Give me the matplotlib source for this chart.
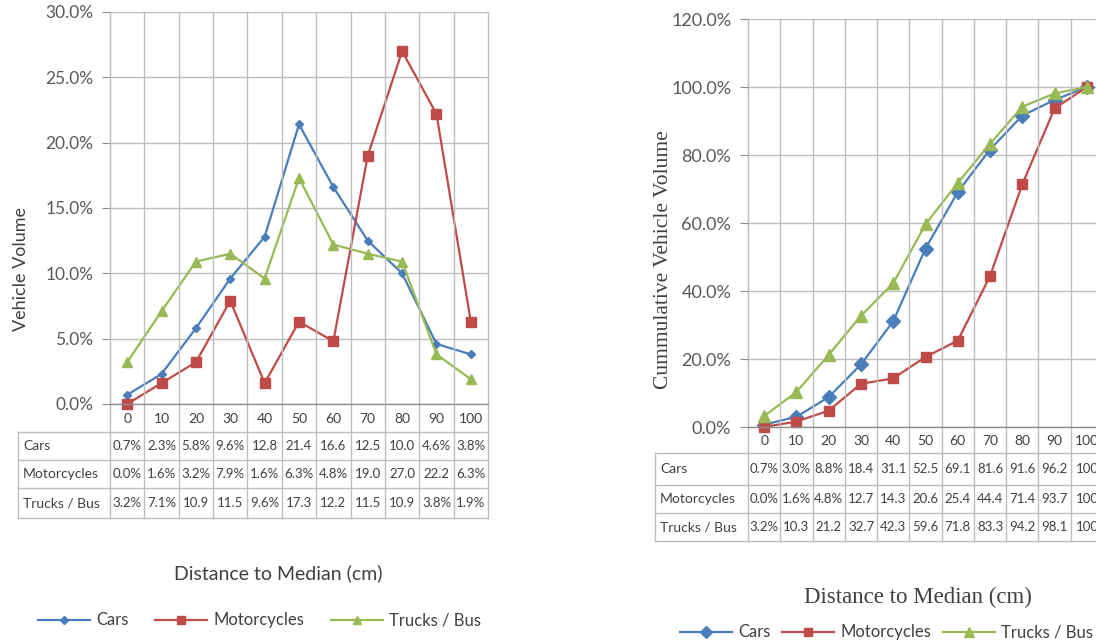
import matplotlib
matplotlib.use("Agg")
import matplotlib.pyplot as plt
from matplotlib.lines import Line2D

# ---------------- data ----------------
distances = ["0", "10", "20", "30", "40", "50", "60", "70", "80", "90", "100"]
series_names = ["Cars", "Motorcycles", "Trucks / Bus"]

cars = [0.7, 2.3, 5.8, 9.6, 12.8, 21.4, 16.6, 12.5, 10.0, 4.6, 3.8]
motorcycles = [0.0, 1.6, 3.2, 7.9, 1.6, 6.3, 4.8, 19.0, 27.0, 22.2, 6.3]
trucks = [3.2, 7.1, 10.9, 11.5, 9.6, 17.3, 12.2, 11.5, 10.9, 3.8, 1.9]

cum_cars = [0.7, 3.0, 8.8, 18.4, 31.1, 52.5, 69.1, 81.6, 91.6, 96.2, 100.0]
cum_motorcycles = [0.0, 1.6, 4.8, 12.7, 14.3, 20.6, 25.4, 44.4, 71.4, 93.7, 100.0]
cum_trucks = [3.2, 10.3, 21.2, 32.7, 42.3, 59.6, 71.8, 83.3, 94.2, 98.1, 100.0]

left_yticks = [0, 5, 10, 15, 20, 25, 30]
right_yticks = [0, 20, 40, 60, 80, 100, 120]

# ---------------- style ----------------
W, H = 1096, 640
colors = ["#4A7EBB", "#BE4B48", "#98B954"]
markers = ["D", "s", "^"]
GRID = "#BDBDBD"
TXT = "#404040"
SANS = ["Lato", "DejaVu Sans"]
SERIF = ["Liberation Serif", "DejaVu Serif"]

fig = plt.figure(figsize=(W / 100, H / 100), dpi=100)
fig.patch.set_facecolor("white")
renderer = fig.canvas.get_renderer()

# overlay in pixel coordinates for table/grid extension
ov = fig.add_axes([0, 0, 1, 1], zorder=5)
ov.set_xlim(0, W)
ov.set_ylim(H, 0)
ov.axis("off")
ov.patch.set_alpha(0)


def fmt(v):
    if v >= 100:
        return "100"
    return f"{v:.1f}%" if v < 10 else f"{v:.1f}"


def panel(L, R, T, B, ymax, yticks, data, tab_left, tab_rows, ms, label,
          ylabel_pos, ylab_font, ylab_size, xlabel_pos, xlabel_font,
          xlabel_size, legend_x, legend_y, legend_gap, ytick_size,
          tick_size, cell_size, name_size):
    ax = fig.add_axes([L / W, 1 - B / H, (R - L) / W, (B - T) / H])
    n = len(distances)
    xs = list(range(n))
    for vals, c, m, sz in zip(data, colors, markers, ms):
        ax.plot(xs, vals, color=c, lw=1.6, marker=m, ms=sz,
                markerfacecolor=c, markeredgecolor=c, zorder=3, clip_on=False)
    ax.set_xlim(-0.5, n - 0.5)
    ax.set_ylim(0, ymax)
    ax.set_yticks(yticks)
    ax.set_yticklabels([f"{t:.1f}%" for t in yticks], fontsize=ytick_size,
                       color="#595959", family=SANS)
    ax.set_xticks([])
    for t in yticks:
        ax.axhline(t, color=GRID, lw=1.0, zorder=1)
    for s in ["top", "right", "bottom"]:
        ax.spines[s].set_visible(False)
    ax.spines["left"].set_color("#8C8C8C")
    ax.tick_params(axis="y", length=6, color="#8C8C8C", pad=6)
    ax.patch.set_alpha(0)

    # table geometry in pixels
    bw = (R - L) / n
    edges = [L + i * bw for i in range(n + 1)]
    hdr_bot = tab_rows[0]
    tab_bot = tab_rows[-1]
    for e in edges:
        ov.plot([e, e], [T, tab_bot], color=GRID, lw=1.0, zorder=1)
    ov.plot([L, R], [B, B], color="#8C8C8C", lw=1.0)
    for y in tab_rows:
        ov.plot([tab_left, R], [y, y], color=GRID, lw=1.0)
    ov.plot([tab_left, tab_left], [hdr_bot, tab_bot], color=GRID, lw=1.0)
    for i, d in enumerate(distances):
        ov.text(edges[i] + bw / 2, (B + hdr_bot) / 2 + 1, d, ha="center",
                va="center", fontsize=tick_size, color=TXT, family=SANS)
    for r, (name, vals) in enumerate(zip(series_names, data)):
        yc = (tab_rows[r] + tab_rows[r + 1]) / 2
        ov.text(tab_left + 5, yc, name, ha="left", va="center",
                fontsize=name_size, color=TXT, family=SANS)
        for i, v in enumerate(vals):
            ov.text(edges[i] + bw / 2, yc, fmt(v), ha="center", va="center",
                    fontsize=cell_size, color=TXT, family=SANS)

    ov.text(ylabel_pos[0], ylabel_pos[1], label, rotation=90, ha="center",
            va="center", fontsize=ylab_size, color=TXT, family=ylab_font)
    ov.text(xlabel_pos[0], xlabel_pos[1],
            "Distance to Median (cm)", ha="center", va="center",
            fontsize=xlabel_size, color=TXT, family=xlabel_font)

    # legend
    x = legend_x
    for name, c, m, sz in zip(series_names, colors, markers, ms):
        ov.add_line(Line2D([x, x + 52], [legend_y, legend_y], color=c, lw=1.6))
        ov.plot([x + 26], [legend_y], marker=m, color=c, ms=sz * 0.85)
        t = ov.text(x + 58, legend_y, name, ha="left", va="center",
                    fontsize=12, color=TXT, family=SANS)
        bb = t.get_window_extent(renderer=renderer)
        x = x + 58 + bb.width + legend_gap
    return ax


panel(110, 488, 12, 404, 30, left_yticks, [cars, motorcycles, trucks],
      18, [432, 460, 488, 518], [4.5, 7, 7.5], "Vehicle Volume",
      (21, 269), SANS, 13, (278, 573), SANS, 14, 38, 620, 27,
      12.5, 10, 9.5, 10)

panel(748, 1103, 19, 427, 120, right_yticks,
      [cum_cars, cum_motorcycles, cum_trucks],
      655, [453, 485, 513, 541], [7, 7, 8], "Cummulative Vehicle Volume",
      (663, 260), SERIF, 15.5, (918, 597), SERIF, 16.5, 680, 632, 12,
      13, 10, 9.5, 10)

fig.savefig("out.png", dpi=100)
